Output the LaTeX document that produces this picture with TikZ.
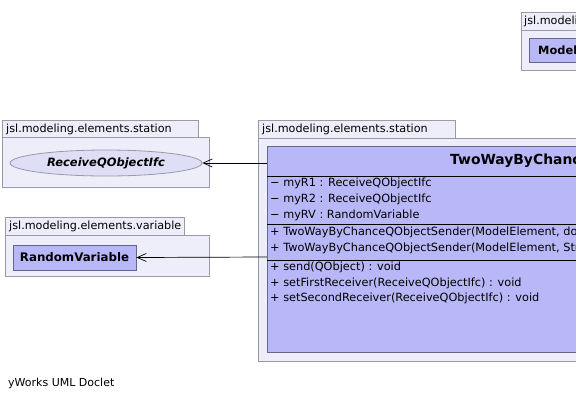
\documentclass[tikz,border=0pt]{standalone}
\usepackage{fontspec}
\setmainfont{DejaVu Sans}
\usetikzlibrary{arrows.meta,shapes.geometric}
\definecolor{pkgfill}{RGB}{238,238,250}
\definecolor{pkgline}{RGB}{153,153,170}
\definecolor{clsfill}{RGB}{184,184,248}
\definecolor{clsline}{RGB}{102,102,140}
\definecolor{ellfill}{RGB}{222,222,246}
\tikzset{
  x=1pt,y=-1pt,
  pkg/.style={draw=pkgline,fill=pkgfill,line width=0.8pt},
  cls/.style={draw=clsline,fill=clsfill,line width=0.8pt},
  lbl/.style={anchor=west,inner sep=0pt,font=\fontsize{11.2}{13}\selectfont},
  mem/.style={anchor=west,inner sep=0pt,font=\fontsize{11.3}{13}\selectfont},
  dep/.style={draw=black,line width=0.7pt,-{Straight Barb[length=9pt,width=8pt]}},
}
\begin{document}
\begin{tikzpicture}
\useasboundingbox (0,0) rectangle (576,400);
\clip (0,0) rectangle (576,400);
\fill[white] (0,0) rectangle (576,400);
% top-right package
\draw[pkg] (521,12) rectangle (600,30);
\draw[pkg] (521,30) rectangle (600,70);
\node[lbl] (tprl) at (524,21) {jsl.modeling.elements};
\draw[cls] (529,38) rectangle (640,62);
\node[lbl,font=\bfseries\fontsize{11.4}{13}\selectfont] (tprc) at (538,50) {ModelElement};
% left package 1
\draw[pkg] (2,120) rectangle (198,137);
\draw[pkg] (2,137) rectangle (209,187);
\node[lbl] (p1l) at (6,129) {jsl.modeling.elements.station};
\node[ellipse,draw=pkgline,fill=ellfill,line width=0.8pt,minimum width=192pt,minimum height=26pt,inner sep=0pt,font=\bfseries\itshape\fontsize{11.5}{13}\selectfont] (rq) at (106,163) {ReceiveQObjectIfc};
% left package 2
\draw[pkg] (5,217) rectangle (184,235);
\draw[pkg] (5,235) rectangle (209,276);
\node[lbl] (p2l) at (9,226) {jsl.modeling.elements.variable};
\node[cls,draw,minimum width=123pt,minimum height=25pt,inner sep=0pt,font=\bfseries\fontsize{11.8}{13}\selectfont] (rv) at (74.5,257.5) {RandomVariable};
% main package
\draw[pkg] (258,120) rectangle (455,138);
\draw[pkg] (258,138) rectangle (620,361);
\node[lbl] (p3l) at (262,129) {jsl.modeling.elements.station};
\draw[cls] (267,146) rectangle (900,352);
\draw[black,line width=0.8pt] (267,176) -- (900,176);
\draw[black,line width=0.7pt] (267,224) -- (900,224);
\draw[black,line width=0.7pt] (267,260) -- (900,260);
\node[anchor=west,inner sep=0pt,font=\bfseries\fontsize{13.9}{16}\selectfont] (title) at (450,161) {TwoWayByChanceQObjectSender};
\node[mem] (a1) at (270,183) {−\ myR1 : ReceiveQObjectIfc};
\node[mem] (a2) at (270,199) {−\ myR2 : ReceiveQObjectIfc};
\node[mem] (a3) at (270,215) {−\ myRV : RandomVariable};
\node[mem] (c1) at (270,232) {+\ TwoWayByChanceQObjectSender(ModelElement, double)};
\node[mem] (c2) at (270,248) {+\ TwoWayByChanceQObjectSender(ModelElement, String)};
\node[mem] (m1) at (270,267) {+\ send(QObject) : void};
\node[mem] (m2) at (270,283) {+\ setFirstReceiver(ReceiveQObjectIfc) : void};
\node[mem] (m3) at (270,298) {+\ setSecondReceiver(ReceiveQObjectIfc) : void};
\coordinate (s1) at (267,163);
\coordinate (s2) at (267,257);
\draw[dep] (s1) -- (rq.east);
\draw[dep] (s2) -- (rv.east);
\node[anchor=west,inner sep=0pt,font=\fontsize{11}{13}\selectfont] (foot) at (8,383) {yWorks UML Doclet};
\end{tikzpicture}
\end{document}
